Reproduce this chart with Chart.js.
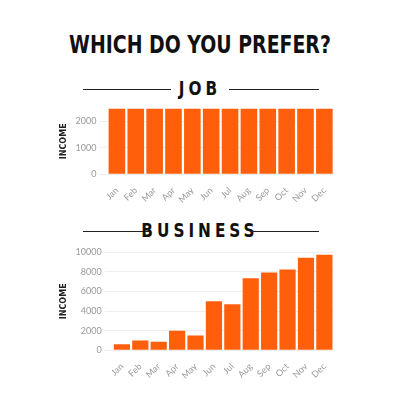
<!DOCTYPE html>
<html>
<head>
<script src="https://cdn.jsdelivr.net/npm/chart.js@4"></script>
<style>
  body { margin: 0; background: #fff; width: 400px; height: 400px; position: relative; overflow: hidden; font-family: "DejaVu Sans Condensed", sans-serif; }
  .title { position: absolute; top: 33px; left: 0; width: 400px; text-align: center; font-weight: bold; font-size: 21px; color: #111; transform: scaleY(1.15); }
  .head { position: absolute; left: 0; width: 400px; height: 20px; }
  .head span { position: absolute; left: 0; width: 400px; text-align: center; font-weight: bold; font-size: 17px; letter-spacing: 4px; color: #111; transform: scaleY(1.1); }
  .line { position: absolute; height: 1px; background: #222; top: 11px; }
  .wrap { position: absolute; left: 55px; width: 280px; }
</style>
</head>
<body>
<div class="title">WHICH DO YOU PREFER?</div>
<div class="head" style="top:78px"><div class="line" style="left:83px;width:88px"></div><span>JOB</span><div class="line" style="left:229px;width:90px"></div></div>
<div class="wrap" style="top:100px;height:108px"><canvas id="jobChart"></canvas></div>
<div class="head" style="top:220px"><div class="line" style="left:83px;width:67px"></div><span>BUSINESS</span><div class="line" style="left:250px;width:69px"></div></div>
<div class="wrap" style="top:244px;height:140px"><canvas id="bizChart"></canvas></div>
<script>
const months = ['Jan', 'Feb', 'Mar', 'Apr', 'May', 'Jun', 'Jul', 'Aug', 'Sep', 'Oct', 'Nov', 'Dec'];
const jobIncome = [2500, 2500, 2500, 2500, 2500, 2500, 2500, 2500, 2500, 2500, 2500, 2500];
const businessIncome = [600, 1000, 850, 2000, 1500, 5000, 4700, 7350, 7950, 8250, 9450, 9750];

function makeChart(id, data, max, step) {
  new Chart(document.getElementById(id), {
    type: 'bar',
    data: {
      labels: months,
      datasets: [{ data: data, backgroundColor: '#ff5f0a', categoryPercentage: 0.88, barPercentage: 1 }]
    },
    options: {
      responsive: true,
      maintainAspectRatio: false,
      animation: false,
      plugins: { legend: { display: false }, tooltip: { enabled: false } },
      scales: {
        x: {
          grid: { display: false },
          border: { display: false },
          ticks: { autoSkip: false, color: '#999', font: { size: 9, family: 'Lato' }, maxRotation: 45, minRotation: 45 }
        },
        y: {
          beginAtZero: true,
          max: max,
          ticks: { stepSize: step, color: '#999', font: { size: 9, family: 'Lato' }, callback: v => String(v) },
          grid: { color: '#eee' },
          border: { display: false },
          title: { display: true, text: 'INCOME', color: '#222', font: { size: 8, weight: 'bold', family: 'DejaVu Sans' } }
        }
      }
    }
  });
}

makeChart('jobChart', jobIncome, 2500, 500);
makeChart('bizChart', businessIncome, 10000, 2000);
</script>
</body>
</html>
